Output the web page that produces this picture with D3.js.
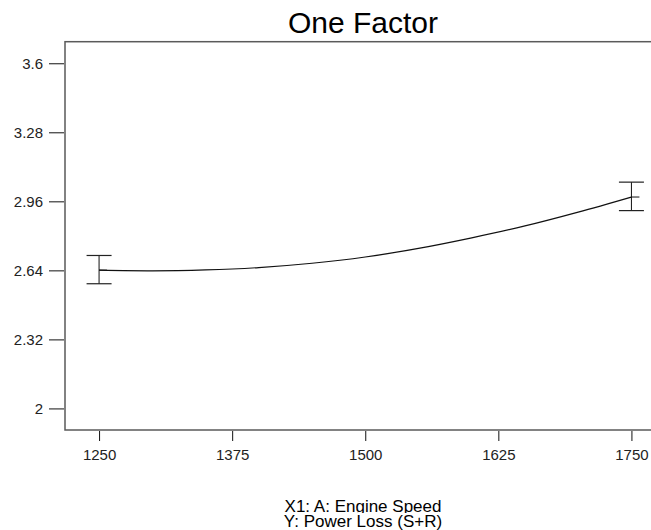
<!DOCTYPE html>
<html>
<head>
  <meta charset="utf-8">
  <title>One Factor</title>
  <style>
    body { margin: 0; background: #fff; }
    text { font-family: "Liberation Sans", Arial, sans-serif; }
  </style>
</head>
<body>
  <svg width="651" height="530"></svg>
  <script src="https://d3js.org/d3.v7.min.js"></script>
  <script>
  // data
  var speed = [1250, 1300, 1350, 1400, 1450, 1500, 1550, 1600, 1650, 1700, 1750];
  var powerLoss = [2.641, 2.638, 2.642, 2.653, 2.673, 2.702, 2.742, 2.791, 2.846, 2.910, 2.980];

  var barX = [1250, 1750];
  var barLow = [2.578, 2.917];
  var barHigh = [2.709, 3.049];
  var barMid = [2.641, 2.980];

  var xTicks = [1250, 1375, 1500, 1625, 1750];
  var yTicks = [2, 2.32, 2.64, 2.96, 3.28, 3.6];

  var svg = d3.select('svg');

  var x = d3.scaleLinear().domain([1218, 1782]).range([65, 665.5]);
  var y = d3.scaleLinear().domain([1.9, 3.7]).range([430, 41.7]);

  // frame
  svg.append('rect')
    .attr('x', 65).attr('y', 41.7)
    .attr('width', 600.5).attr('height', 388.3)
    .attr('fill', 'none')
    .attr('stroke', '#5a5a5a')
    .attr('stroke-width', 1.5);

  // y axis
  var yAxis = d3.axisLeft(y).tickValues(yTicks).tickSize(15).tickPadding(6)
    .tickFormat(function(d) { return String(d); });
  var gy = svg.append('g').attr('transform', 'translate(64,0)').call(yAxis);
  gy.select('.domain').remove();
  gy.selectAll('line').attr('stroke', '#111');
  gy.selectAll('text').attr('font-size', 15).attr('fill', '#222')
    .attr('font-family', '"Liberation Sans", Arial, sans-serif');

  // x axis
  var xAxis = d3.axisBottom(x).tickValues(xTicks).tickSize(10).tickPadding(8)
    .tickFormat(d3.format('d'));
  var gx = svg.append('g').attr('transform', 'translate(0,431)').call(xAxis);
  gx.select('.domain').remove();
  gx.selectAll('line').attr('stroke', '#111');
  gx.selectAll('text').attr('font-size', 15).attr('fill', '#222')
    .attr('font-family', '"Liberation Sans", Arial, sans-serif');

  // fitted curve
  var line = d3.line()
    .x(function(d, i) { return x(speed[i]); })
    .y(function(d) { return y(d); })
    .curve(d3.curveMonotoneX);

  svg.append('path')
    .attr('d', line(powerLoss))
    .attr('fill', 'none')
    .attr('stroke', '#111')
    .attr('stroke-width', 1.2);

  // error bars
  var bars = svg.selectAll('.bar').data(barX).enter().append('g').attr('class', 'bar');
  bars.append('line')
    .attr('x1', function(d) { return x(d); }).attr('x2', function(d) { return x(d); })
    .attr('y1', function(d, i) { return y(barLow[i]); })
    .attr('y2', function(d, i) { return y(barHigh[i]); })
    .attr('stroke', '#111');
  bars.append('line')
    .attr('x1', function(d) { return x(d) - 12.5; }).attr('x2', function(d) { return x(d) + 12.5; })
    .attr('y1', function(d, i) { return y(barLow[i]); })
    .attr('y2', function(d, i) { return y(barLow[i]); })
    .attr('stroke', '#222').attr('stroke-width', 1.2);
  bars.append('line')
    .attr('x1', function(d) { return x(d) - 12.5; }).attr('x2', function(d) { return x(d) + 12.5; })
    .attr('y1', function(d, i) { return y(barHigh[i]); })
    .attr('y2', function(d, i) { return y(barHigh[i]); })
    .attr('stroke', '#222').attr('stroke-width', 1.2);
  bars.append('line')
    .attr('x1', function(d) { return x(d); }).attr('x2', function(d) { return x(d) + 8; })
    .attr('y1', function(d, i) { return y(barMid[i]); })
    .attr('y2', function(d, i) { return y(barMid[i]); })
    .attr('stroke', '#111');

  // title
  svg.append('text')
    .attr('x', 363).attr('y', 33)
    .attr('text-anchor', 'middle')
    .attr('font-size', 30)
    .attr('fill', '#000')
    .text('One Factor');

  // axis captions (first line clipped just under its baseline like the original)
  svg.append('clipPath').attr('id', 'cap1')
    .append('rect').attr('x', 0).attr('y', 490).attr('width', 651).attr('height', 23);
  svg.append('text')
    .attr('x', 363).attr('y', 512)
    .attr('text-anchor', 'middle')
    .attr('font-size', 17)
    .attr('clip-path', 'url(#cap1)')
    .text('X1: A: Engine Speed');
  svg.append('text')
    .attr('x', 363).attr('y', 527)
    .attr('text-anchor', 'middle')
    .attr('font-size', 17)
    .text('Y: Power Loss (S+R)');
  </script>
</body>
</html>
